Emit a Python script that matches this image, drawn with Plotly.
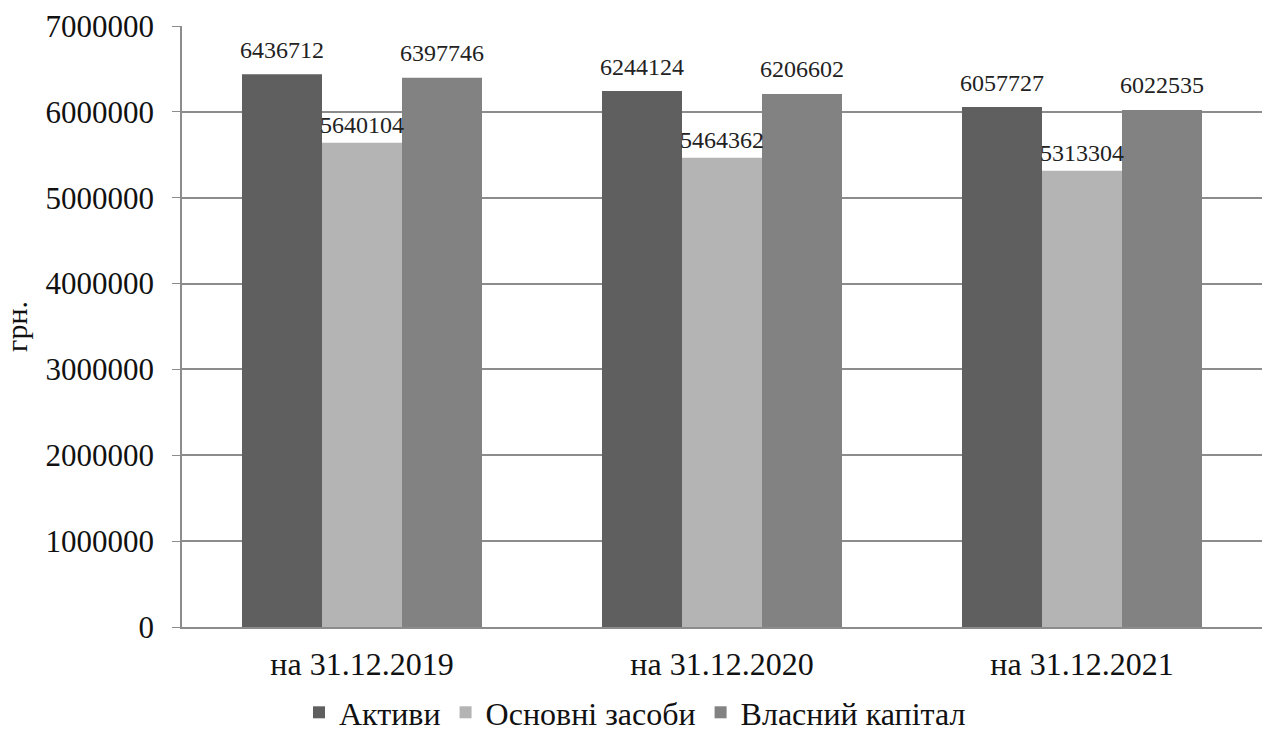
import plotly.graph_objects as go

categories = ["на 31.12.2019", "на 31.12.2020", "на 31.12.2021"]
aktyvy = [6436712, 6244124, 6057727]
osnovni_zasoby = [5640104, 5464362, 5313304]
vlasnyi_kapital = [6397746, 6206602, 6022535]

# (name, values, colour, horizontal label offset in px, label lift in px)
series = [
    ("Активи", aktyvy, "#5f5f5f", -80, 24),
    ("Основні засоби", osnovni_zasoby, "#b4b4b4", 0, 18),
    ("Власний капітал", vlasnyi_kapital, "#828282", 80, 25),
]

font_family = "Liberation Serif, Times New Roman, serif"

fig = go.Figure()
annotations = []
for name, values, color, dx, lift in series:
    fig.add_trace(go.Bar(
        x=categories, y=values, name=name,
        marker=dict(color=color, line=dict(width=0)),
    ))
    for cat, v in zip(categories, values):
        annotations.append(dict(
            x=cat, y=v, xref="x", yref="y", text=str(v), showarrow=False,
            xshift=dx, yshift=lift, yanchor="middle", xanchor="center",
            font=dict(family=font_family, size=24, color="#222"),
        ))

fig.update_layout(
    width=1270, height=740,
    barmode="group", bargap=1/3, bargroupgap=0,
    plot_bgcolor="white", paper_bgcolor="white",
    margin=dict(l=182, r=8, t=26, b=113, autoexpand=False),
    font=dict(family=font_family, size=32, color="#111"),
    annotations=annotations,
    legend=dict(orientation="h", xref="container", yref="container",
                x=0.5, xanchor="center", y=-0.012, yanchor="bottom",
                font=dict(size=32), traceorder="normal", itemwidth=30),
    yaxis=dict(
        range=[0, 7000000], dtick=1000000, tickformat="d",
        showgrid=True, gridcolor="#8c8c8c", gridwidth=1.5,
        showline=True, linecolor="#8c8c8c", linewidth=1.5,
        ticks="outside", ticklen=8, tickcolor="#8c8c8c",
        ticklabelstandoff=12,
        zeroline=False,
        title=dict(text="грн.", font=dict(size=30), standoff=12),
        tickfont=dict(size=31),
    ),
    xaxis=dict(
        showline=True, linecolor="#8c8c8c", linewidth=1.5,
        ticks="", tickfont=dict(size=32), ticklabelstandoff=8,
    ),
)

fig.write_html("out.html")
